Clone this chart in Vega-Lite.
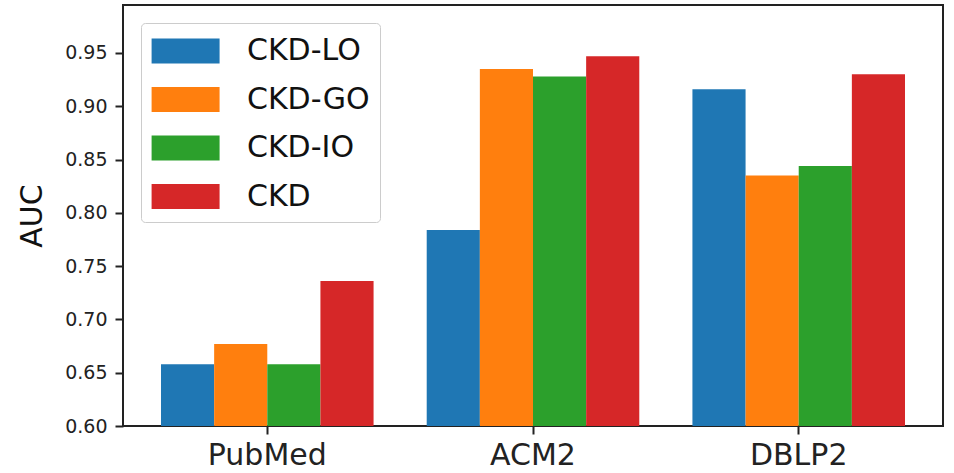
{
  "$schema": "https://vega.github.io/schema/vega-lite/v6.json",
  "autosize": {"type": "none"},
  "padding": {"left": 123, "top": 5, "right": 11, "bottom": 47},
  "width": 820,
  "height": 421,
  "background": "white",
  "config": {
    "font": "DejaVu Sans",
    "view": {"stroke": "#222", "strokeWidth": 2}
  },
  "data": {
    "values": [
      {"dataset": "PubMed", "method": "CKD-LO", "auc": 0.658},
      {"dataset": "PubMed", "method": "CKD-GO", "auc": 0.677},
      {"dataset": "PubMed", "method": "CKD-IO", "auc": 0.658},
      {"dataset": "PubMed", "method": "CKD", "auc": 0.736},
      {"dataset": "ACM2", "method": "CKD-LO", "auc": 0.784},
      {"dataset": "ACM2", "method": "CKD-GO", "auc": 0.935},
      {"dataset": "ACM2", "method": "CKD-IO", "auc": 0.928},
      {"dataset": "ACM2", "method": "CKD", "auc": 0.947},
      {"dataset": "DBLP2", "method": "CKD-LO", "auc": 0.916},
      {"dataset": "DBLP2", "method": "CKD-GO", "auc": 0.835},
      {"dataset": "DBLP2", "method": "CKD-IO", "auc": 0.844},
      {"dataset": "DBLP2", "method": "CKD", "auc": 0.930}
    ]
  },
  "mark": {"type": "bar", "clip": true},
  "encoding": {
    "x": {
      "field": "dataset",
      "type": "nominal",
      "sort": ["PubMed", "ACM2", "DBLP2"],
      "scale": {"paddingInner": 0.2, "paddingOuter": 0.143},
      "axis": {
        "title": null,
        "labelAngle": 0,
        "labelFontSize": 30,
        "labelColor": "#222",
        "labelPadding": 6,
        "tickSize": 8,
        "tickWidth": 2,
        "tickColor": "#222",
        "domain": false,
        "grid": false
      }
    },
    "xOffset": {
      "field": "method",
      "type": "nominal",
      "sort": ["CKD-LO", "CKD-GO", "CKD-IO", "CKD"],
      "scale": {"paddingInner": 0, "paddingOuter": 0}
    },
    "y": {
      "field": "auc",
      "type": "quantitative",
      "scale": {"domain": [0.6, 0.995], "nice": false, "zero": false, "clamp": true},
      "axis": {
        "title": "AUC",
        "titleFontSize": 30,
        "titleFontWeight": "normal",
        "titleColor": "#111",
        "titlePadding": 17,
        "values": [0.6, 0.65, 0.7, 0.75, 0.8, 0.85, 0.9, 0.95],
        "format": ".2f",
        "labelFontSize": 19,
        "labelColor": "#222",
        "labelPadding": 8,
        "tickSize": 8,
        "tickWidth": 2,
        "tickColor": "#222",
        "domain": false,
        "grid": false
      }
    },
    "y2": {"datum": 0.6},
    "color": {
      "field": "method",
      "type": "nominal",
      "sort": ["CKD-LO", "CKD-GO", "CKD-IO", "CKD"],
      "scale": {
        "domain": ["CKD-LO", "CKD-GO", "CKD-IO", "CKD"],
        "range": ["#1f77b4", "#ff7f0e", "#2ca02c", "#d62728"]
      },
      "legend": {
        "title": null,
        "orient": "none",
        "legendX": 18,
        "legendY": 18,
        "symbolType": "M-0.967,-0.694H2.81V0.694H-0.967Z",
        "symbolSize": 1296,
        "symbolStrokeWidth": 0,
        "labelFontSize": 30,
        "labelColor": "#111",
        "labelOffset": 60,
        "rowPadding": 15.5,
        "padding": 10,
        "strokeColor": "#ccc",
        "fillColor": "rgba(255,255,255,0.8)",
        "cornerRadius": 4
      }
    }
  }
}
